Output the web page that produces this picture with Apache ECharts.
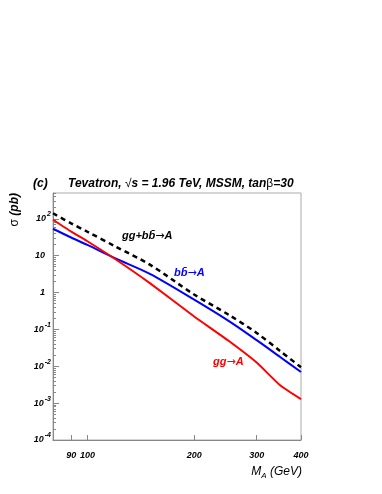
<!DOCTYPE html>
<html>
<head>
<meta charset="utf-8">
<script src="https://cdn.jsdelivr.net/npm/echarts@6/dist/echarts.min.js"></script>
<style>
  html, body { margin: 0; padding: 0; background: #fff; }
  #chart { width: 382px; height: 494px; }
</style>
</head>
<body>
<div id="chart"></div>
<script>
// M_A (GeV) and cross sections (pb)
const massGeV = [80, 90, 100, 120, 150, 200, 250, 300, 350, 400];
const sigmaGG = [94, 45, 24.6, 8.0, 1.8, 0.224, 0.049, 0.0126, 0.0030, 0.00128];
const sigmaBB = [53.7, 31, 19.5, 8.4, 3.2, 0.64, 0.17, 0.051, 0.0176, 0.0070];
const sigmaTotal = [141, 75, 44.5, 17.7, 5.7, 0.88, 0.25, 0.08, 0.0255, 0.0094];

const xTickValues = [90, 100, 200, 300, 400];
const yTickValues = [1e-4, 1e-3, 1e-2, 1e-1, 1, 10, 100];

// minor ticks 2..9 in each decade
const yMinorTicks = [];
yTickValues.forEach((d) => {
  for (let m = 2; m <= 9; m++) {
    if (d * m <= 500) yMinorTicks.push(d * m);
  }
});

const pair = (ys) => massGeV.map((m, i) => [m, ys[i]]);

const FONT = '"Liberation Sans", Arial, sans-serif';
const bi = (size, color) => ({
  fontSize: size, fontWeight: 'bold', fontStyle: 'italic',
  fontFamily: FONT, color: color || '#000', fill: color || '#000'
});
const reg = (size, color) => ({
  fontSize: size, fontWeight: 'normal', fontStyle: 'normal',
  fontFamily: FONT, color: color || '#000', fill: color || '#000'
});
const arrow = (size, color) => Object.assign(reg(size, color), { fontFamily: '"DejaVu Sans"' });

const chart = echarts.init(document.getElementById('chart'), null, { renderer: 'canvas' });

const option = {
  animation: false,
  backgroundColor: '#fff',
  grid: {
    left: 53, right: 81, top: 193, bottom: 54,
    show: true, borderColor: '#aaa', borderWidth: 1,
    outerBoundsMode: 'none'
  },
  xAxis: [{
    type: 'log', logBase: 10, min: 80, max: 400,
    axisLine: { show: true, lineStyle: { color: '#888', width: 1 } },
    axisTick: {
      show: true, inside: true, length: 5, customValues: xTickValues,
      lineStyle: { color: '#888' }
    },
    minorTick: { show: false },
    splitLine: { show: false },
    axisLabel: Object.assign({
      customValues: xTickValues,
      margin: 11,
      formatter: (v) => String(Math.round(v))
    }, bi(9))
  }],
  yAxis: [{
    type: 'log', logBase: 10, min: 1e-4, max: 500,
    axisLine: { show: true, lineStyle: { color: '#888', width: 1 } },
    axisTick: {
      show: true, inside: true, length: 6, customValues: yTickValues,
      lineStyle: { color: '#888' }
    },
    minorTick: { show: false },
    splitLine: { show: false },
    axisLabel: {
      customValues: yTickValues,
      margin: 2,
      formatter: (v) => {
        const k = Math.round(Math.log10(v));
        if (k === 0) return '{n|1}';
        if (k === 1) return '{n|10}';
        return '{b|10}{e|' + k + '}';
      },
      rich: {
        n: Object.assign(bi(9), { padding: [0, 6, 0, 0] }),
        b: bi(9),
        e: Object.assign(bi(7), { padding: [0, 0, 9, 1] })
      }
    }
  }, {
    type: 'log', logBase: 10, min: 1e-4, max: 500,
    position: 'left',
    axisLine: { show: false },
    axisLabel: { show: false },
    axisTick: {
      show: true, inside: true, length: 3, customValues: yMinorTicks,
      lineStyle: { color: '#888' }
    },
    minorTick: { show: false },
    splitLine: { show: false }
  }],
  series: [{
    name: 'gg+bb->A', type: 'line', data: pair(sigmaTotal),
    showSymbol: false, smooth: 0.3, z: 3,
    lineStyle: { color: '#000', width: 2.5, type: [5, 4] }
  }, {
    name: 'bb->A', type: 'line', data: pair(sigmaBB),
    showSymbol: false, smooth: 0.3, z: 2,
    lineStyle: { color: '#0000ff', width: 2 }
  }, {
    name: 'gg->A', type: 'line', data: pair(sigmaGG),
    showSymbol: false, smooth: 0.15, z: 2,
    lineStyle: { color: '#ff0000', width: 2 }
  }],
  graphic: [
    {
      type: 'text', x: 33, y: 184,
      style: Object.assign({ text: '(c)', align: 'left', verticalAlign: 'middle' }, bi(12))
    },
    {
      type: 'text', x: 68, y: 184,
      style: {
        text: '{a|Tevatron, }{r|\u221A}{a|s = 1.96 TeV, MSSM, tan}{r|\u03B2}{a|=30}',
        align: 'left', verticalAlign: 'middle',
        rich: { a: bi(12), r: reg(12) }
      }
    },
    {
      type: 'text', x: 15, y: 193, rotation: Math.PI / 2,
      style: {
        text: '{r|\u03C3}{a| (pb)}',
        align: 'right', verticalAlign: 'middle',
        rich: { a: bi(12), r: reg(12) }
      }
    },
    {
      type: 'text', x: 302, y: 472,
      style: {
        text: '{m|M}{s|A}{m| (GeV)}',
        align: 'right', verticalAlign: 'middle',
        rich: {
          m: Object.assign(reg(12), { fontStyle: 'italic' }),
          s: Object.assign(reg(8), { fontStyle: 'italic', padding: [7, 0, 0, 0] })
        }
      }
    },
    {
      type: 'text', x: 122, y: 236,
      style: {
        text: '{a|gg+bb\u0304}{r|\u2192}{a|A}',
        align: 'left', verticalAlign: 'middle',
        rich: { a: bi(11), r: arrow(11) }
      }
    },
    {
      type: 'text', x: 174, y: 273,
      style: {
        text: '{a|bb\u0304}{r|\u2192}{a|A}',
        align: 'left', verticalAlign: 'middle',
        rich: { a: bi(11, '#0000ff'), r: arrow(11, '#0000ff') }
      }
    },
    {
      type: 'text', x: 213, y: 362,
      style: {
        text: '{a|gg}{r|\u2192}{a|A}',
        align: 'left', verticalAlign: 'middle',
        rich: { a: bi(11, '#ff0000'), r: arrow(11, '#ff0000') }
      }
    }
  ]
};

chart.setOption(option);
</script>
</body>
</html>
